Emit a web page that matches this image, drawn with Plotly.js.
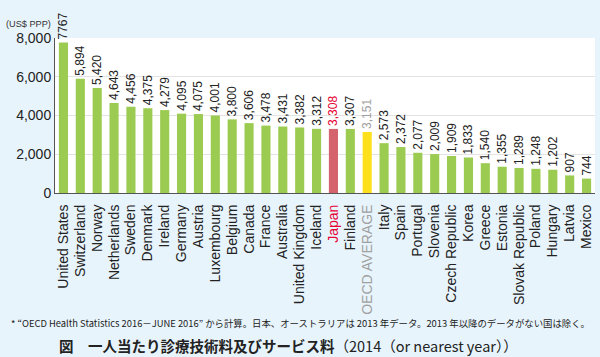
<!DOCTYPE html>
<html>
<head>
<meta charset="utf-8">
<script src="https://cdn.plot.ly/plotly-3.0.1.min.js"></script>
<style>
html,body{margin:0;padding:0;background:#e8f4fc;}
#chart{width:600px;height:357px;}
</style>
</head>
<body>
<div id="chart"></div>
<script>
const countries = ["United States","Switzerland","Norway","Netherlands","Sweden","Denmark","Ireland","Germany","Austria","Luxembourg","Belgium","Canada","France","Australia","United Kingdom","Iceland","Japan","Finland","OECD AVERAGE","Italy","Spain","Portugal","Slovenia","Czech Republic","Korea","Greece","Estonia","Slovak Republic","Poland","Hungary","Latvia","Mexico"];
const values = [7767,5894,5420,4643,4456,4375,4279,4095,4075,4001,3800,3606,3478,3431,3382,3312,3308,3307,3151,2573,2372,2077,2009,1909,1833,1540,1355,1289,1248,1202,907,744];
const valueLabels = ["7767","5,894","5,420","4,643","4,456","4,375","4,279","4,095","4,075","4,001","3,800","3,606","3,478","3,431","3,382","3,312","3,308","3,307","3,151","2,573","2,372","2,077","2,009","1,909","1,833","1,540","1,355","1,289","1,248","1,202","907","744"];
const yTicks = [0,2000,4000,6000,8000];
const yTickLabels = ["0","2,000","4,000","6,000","8,000"];

const GREEN = "#9ccb52", JAPAN = "#d4636d", OECD = "#ffe01c";
const barColors = countries.map(c => c === "Japan" ? JAPAN : (c === "OECD AVERAGE" ? OECD : GREEN));
const labelColors = countries.map(c => c === "Japan" ? "#e60033" : (c === "OECD AVERAGE" ? "#a0a0a0" : "#222"));
const tickText = countries.map(c => c === "Japan" ? '<span style="color:#e60033">Japan</span>' :
  (c === "OECD AVERAGE" ? '<span style="color:#a0a0a0">OECD AVERAGE</span>' : c));

const trace = {
  type: "bar",
  x: countries,
  y: values,
  text: valueLabels,
  textposition: "outside",
  textangle: -90,
  constraintext: "none",
  cliponaxis: false,
  textfont: {family: "Liberation Sans, Arial, sans-serif", size: 12, color: labelColors},
  marker: {color: barColors, line: {width: 0}},
  hoverinfo: "skip"
};

const layout = {
  width: 600, height: 357,
  margin: {l: 55, r: 5, t: 38, b: 164},
  paper_bgcolor: "#e8f4fc",
  plot_bgcolor: "#ffffff",
  bargap: 0.46,
  showlegend: false,
  font: {family: "Liberation Sans, Arial, sans-serif", color: "#222"},
  xaxis: {
    type: "category",
    tickvals: countries,
    ticktext: tickText,
    tickangle: -90,
    tickfont: {size: 14, color: "#222"},
    showline: true, linecolor: "#555", linewidth: 1,
    ticks: "outside", ticklen: 5, tickcolor: "rgba(0,0,0,0)",
    showgrid: false, fixedrange: true
  },
  yaxis: {
    range: [0, 8000],
    tickvals: yTicks,
    ticktext: yTickLabels,
    tickfont: {size: 14, color: "#222"},
    showline: true, linecolor: "#555", linewidth: 1,
    showgrid: true, gridcolor: "#e3e3e3", gridwidth: 1,
    zeroline: false, ticks: "", fixedrange: true
  },
  annotations: [
    {xref: "paper", yref: "paper", x: -0.095, y: 1.09, xanchor: "left", yanchor: "middle",
     text: "(US$ PPP)", showarrow: false, font: {size: 9.2, color: "#333"}},
    {xref: "paper", yref: "paper", x: 0.454, xanchor: "center", y: -0.84, yanchor: "middle",
     text: "* “OECD Health Statistics 2016－JUNE 2016” から計算。日本、オーストラリアは 2013 年データ。2013 年以降のデータがない国は除く。",
     showarrow: false, font: {family: "Noto Sans CJK JP, sans-serif", size: 9.4, color: "#222"}},
    {xref: "paper", yref: "paper", x: 0.433, xanchor: "center", y: -0.985, yanchor: "middle",
     text: "<b>図　一人当たり診療技術料及びサービス料</b>（2014（or nearest year））",
     showarrow: false, font: {family: "Noto Sans CJK JP, sans-serif", size: 14.5, color: "#222"}}
  ]
};

Plotly.newPlot("chart", [trace], layout, {staticPlot: true, displayModeBar: false});
</script>
</body>
</html>
